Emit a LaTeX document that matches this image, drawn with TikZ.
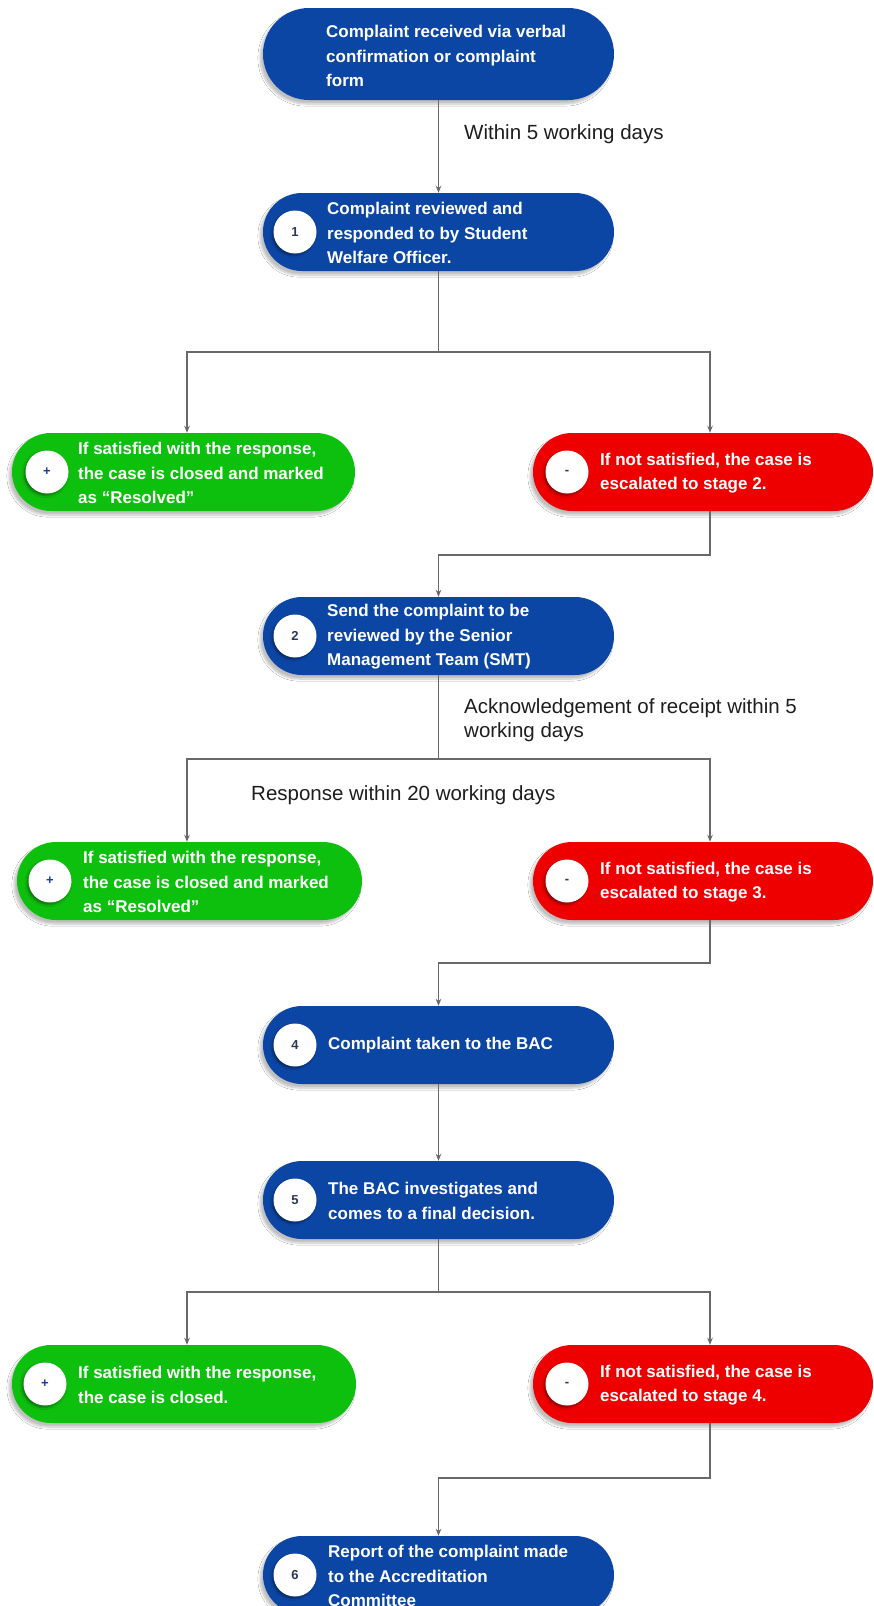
\documentclass[tikz,border=0pt]{standalone}
\usepackage{fontspec}
\setmainfont{Liberation Sans}
\usetikzlibrary{arrows.meta,shadows.blur,shapes.misc}
\definecolor{bluebox}{RGB}{12,70,165}
\definecolor{greenbox}{RGB}{14,192,14}
\definecolor{redbox}{RGB}{238,0,0}
\definecolor{linegray}{RGB}{105,105,105}
\definecolor{numcol}{RGB}{45,55,85}
\definecolor{pluscol}{RGB}{25,60,160}
\definecolor{labelcol}{RGB}{30,30,30}
\tikzset{
  pillbase/.style={rounded rectangle, inner sep=0pt, draw=none,
    blur shadow={shadow xshift=-3pt, shadow yshift=-4pt, shadow opacity=25, shadow blur steps=6}},
  bluepill/.style={pillbase, fill=bluebox, minimum width=351pt, minimum height=78pt},
  greenpill/.style={pillbase, fill=greenbox, minimum height=78pt},
  redpill/.style={pillbase, fill=redbox, minimum width=340pt, minimum height=78pt},
  ptext/.style={anchor=west, align=left, inner sep=0pt, text=white,
    font=\bfseries\fontsize{17}{24.5}\selectfont},
  numc/.style={circle, fill=white, minimum size=43pt, inner sep=0pt,
    font=\bfseries\fontsize{13}{13}\selectfont, text=numcol,
    blur shadow={shadow xshift=-1.5pt, shadow yshift=-2pt, shadow opacity=40, shadow blur steps=4}},
  lbl/.style={anchor=west, align=left, inner sep=0pt, text=labelcol,
    font=\fontsize{20.5}{23.5}\selectfont},
  wire/.style={draw=linegray, line width=1.3pt},
  conn/.style={wire, -{Stealth[length=7pt,width=5.5pt]}},
}
\begin{document}
\begin{tikzpicture}[x=1pt,y=-1pt]
\useasboundingbox (0,0) rectangle (874,1606);
\clip (0,0) rectangle (874,1606);
\fill[white] (0,0) rectangle (874,1606);

% ---------- top ----------
\node[bluepill, minimum height=92pt] (top) at (438.5,54) {};
\node[ptext] (ttop) at (326,56) {Complaint received via verbal\\confirmation or complaint\\form};

% ---------- stage 1 ----------
\node[bluepill] (n1) at (438.5,232) {};
\node[numc] (c1) at (295,232) {1};
\node[ptext] (t1) at (327,233) {Complaint reviewed and\\responded to by Student\\Welfare Officer.};

\node[greenpill, minimum width=343pt] (g1) at (183.5,472) {};
\node[numc, text=pluscol] (cg1) at (47,472) {+};
\node[ptext] (tg1) at (78,473) {If satisfied with the response,\\the case is closed and marked\\as “Resolved”};

\node[redpill] (r1) at (703,472) {};
\node[numc] (cr1) at (567,472) {-};
\node[ptext] (tr1) at (600,473) {If not satisfied, the case is\\escalated to stage 2.};

% ---------- stage 2 ----------
\node[bluepill] (n2) at (438.5,636) {};
\node[numc] (c2) at (295,636) {2};
\node[ptext] (t2) at (327,637) {Send the complaint to be\\reviewed by the Senior\\Management Team (SMT)};

\node[greenpill, minimum width=345pt] (g2) at (189.5,881) {};
\node[numc, text=pluscol] (cg2) at (50,881) {+};
\node[ptext] (tg2) at (83,882) {If satisfied with the response,\\the case is closed and marked\\as “Resolved”};

\node[redpill] (r2) at (703,881) {};
\node[numc] (cr2) at (567,881) {-};
\node[ptext] (tr2) at (600,882) {If not satisfied, the case is\\escalated to stage 3.};

% ---------- stage 3 ----------
\node[bluepill] (n4) at (438.5,1045) {};
\node[numc] (c4) at (295,1045) {4};
\node[ptext] (t4) at (328,1045) {Complaint taken to the BAC};

\node[bluepill] (n5) at (438.5,1200) {};
\node[numc] (c5) at (295,1200) {5};
\node[ptext] (t5) at (328,1201) {The BAC investigates and\\comes to a final decision.};

\node[greenpill, minimum width=344pt] (g3) at (184,1384) {};
\node[numc, text=pluscol] (cg3) at (45,1384) {+};
\node[ptext] (tg3) at (78,1385) {If satisfied with the response,\\the case is closed.};

\node[redpill] (r3) at (703,1384) {};
\node[numc] (cr3) at (567,1384) {-};
\node[ptext] (tr3) at (600,1385) {If not satisfied, the case is\\escalated to stage 4.};

% ---------- stage 4 ----------
\node[bluepill] (n6) at (438.5,1575) {};
\node[numc] (c6) at (295,1575) {6};
\node[ptext] (t6) at (328,1576) {Report of the complaint made\\to the Accreditation\\Committee};

% ---------- labels ----------
\node[lbl] (l1) at (464,134) {Within 5 working days};
\node[lbl] (l2) at (464,720) {Acknowledgement of receipt within 5\\working days};
\node[lbl] (l3) at (251,795) {Response within 20 working days};

% ---------- connectors ----------
\draw[conn] (top.south) -- (n1.north);

\coordinate (s1) at (438.5,352);
\coordinate (s1l) at (187,352);
\coordinate (s1r) at (710,352);
\draw[wire] (n1.south) -- (s1);
\draw[conn] (s1) -- (s1l) -- (s1l |- g1.north);
\draw[conn] (s1) -- (s1r) -- (s1r |- r1.north);

\coordinate (j1) at (710,555);
\draw[conn] (r1.south -| j1) -- (j1) -| (n2.north);

\coordinate (s2) at (438.5,759);
\coordinate (s2l) at (187,759);
\coordinate (s2r) at (710,759);
\draw[wire] (n2.south) -- (s2);
\draw[conn] (s2) -- (s2l) -- (s2l |- g2.north);
\draw[conn] (s2) -- (s2r) -- (s2r |- r2.north);

\coordinate (j2) at (710,963);
\draw[conn] (r2.south -| j2) -- (j2) -| (n4.north);

\draw[conn] (n4.south) -- (n5.north);

\coordinate (s3) at (438.5,1292);
\coordinate (s3l) at (187,1292);
\coordinate (s3r) at (710,1292);
\draw[wire] (n5.south) -- (s3);
\draw[conn] (s3) -- (s3l) -- (s3l |- g3.north);
\draw[conn] (s3) -- (s3r) -- (s3r |- r3.north);

\coordinate (j3) at (710,1478);
\draw[conn] (r3.south -| j3) -- (j3) -| (n6.north);
\end{tikzpicture}
\end{document}
